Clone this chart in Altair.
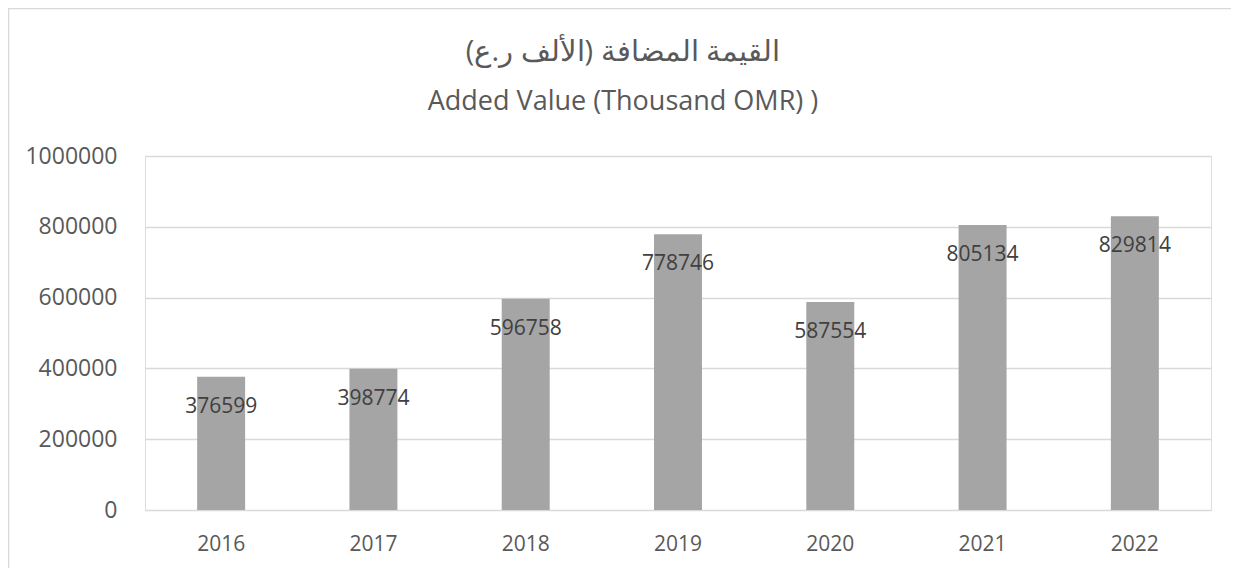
import altair as alt
import pandas as pd

years = ["2016", "2017", "2018", "2019", "2020", "2021", "2022"]
values = [376599, 398774, 596758, 778746, 587554, 805134, 829814]
y_ticks = [0, 200000, 400000, 600000, 800000, 1000000]
title_ar = "القيمة المضافة (الألف ر.ع)"
title_en = "Added Value (Thousand OMR) )"

df = pd.DataFrame({"year": years, "value": values})

FONT = "Open Sans"
W, H = 1066, 354

x = alt.X(
    "year:N", sort=years, title=None,
    scale=alt.Scale(paddingInner=0.685, paddingOuter=0.3425),
    axis=alt.Axis(labelAngle=0, labelPadding=23, ticks=False, domain=False,
                  labelFontSize=21, labelColor="#595959", labelFont=FONT),
)
y = alt.Y(
    "value:Q",
    scale=alt.Scale(domain=[0, 1000000], nice=False),
    axis=alt.Axis(values=y_ticks, format="d", title=None, ticks=False, domain=False,
                  labelPadding=28, labelFontSize=23, labelColor="#595959", labelFont=FONT,
                  grid=True, gridColor="#d9d9d9", gridWidth=1.3),
)

base = alt.Chart(df).encode(x=x, y=y)
bars = base.mark_bar(color="#a5a5a5")
labels = base.mark_text(baseline="middle", dy=30, fontSize=21, color="#404040", font=FONT).encode(
    text=alt.Text("value:Q", format="d")
)

deco = alt.Data(values=[{"k": 1}])
top_border = alt.Chart(deco).mark_rule(color="#d9d9d9", strokeWidth=1.5, clip=False).encode(
    x=alt.value(-137), x2=alt.value(W + 40), y=alt.value(-147.5)
)
left_border = alt.Chart(deco).mark_rule(color="#d9d9d9", strokeWidth=1.5, clip=False).encode(
    x=alt.value(-136.5), y=alt.value(-148), y2=alt.value(H + 80)
)

chart = (
    alt.layer(bars, labels, top_border, left_border)
    .properties(
        width=W, height=H,
        autosize=alt.AutoSizeParams(type="none"),
        padding={"left": 137, "top": 148, "right": 20, "bottom": 58},
        title=alt.TitleParams(
            text=title_ar, subtitle=title_en,
            font=FONT, subtitleFont=FONT,
            fontSize=29, subtitleFontSize=27,
            fontWeight="normal", color="#595959", subtitleColor="#595959",
            anchor="middle", dx=-55, offset=-107.5, subtitlePadding=22,
        ),
    )
    .configure_view(stroke=None)
    .configure(background="white")
)

chart.save("out.html", embed_options={"renderer": "svg", "actions": False})
